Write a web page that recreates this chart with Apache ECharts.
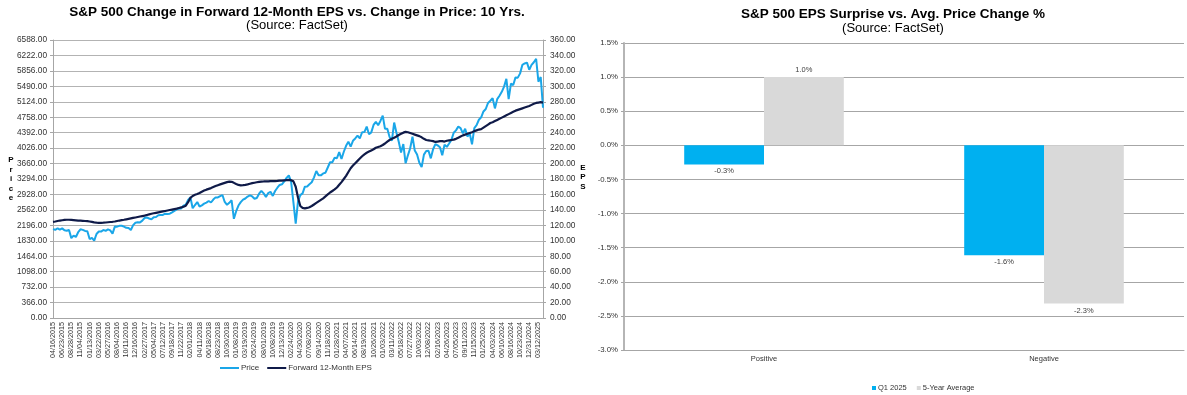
<!DOCTYPE html>
<html><head><meta charset="utf-8">
<script src="https://cdn.jsdelivr.net/npm/echarts@6/dist/echarts.min.js"></script>
<style>html,body{margin:0;padding:0;background:#fff}#c{width:1187px;height:395px}</style>
</head><body><div id="c"></div>
<script>
// ---- Left chart: tick labels (every 4th sample), price and forward EPS ----
const ticks = ['04/16/2015','06/23/2015','08/28/2015','11/04/2015','01/13/2016','03/22/2016','05/27/2016','08/04/2016','10/11/2016','12/16/2016',
'02/27/2017','05/04/2017','07/12/2017','09/18/2017','11/22/2017','02/01/2018','04/11/2018','06/18/2018','08/23/2018','10/30/2018',
'01/08/2019','03/19/2019','05/24/2019','08/01/2019','10/08/2019','12/13/2019','02/24/2020','04/30/2020','07/08/2020','09/14/2020',
'11/18/2020','01/28/2021','04/07/2021','06/14/2021','08/19/2021','10/26/2021','01/03/2022','03/11/2022','05/18/2022','07/27/2022',
'10/03/2022','12/08/2022','02/16/2023','04/26/2023','07/05/2023','09/11/2023','11/15/2023','01/25/2024','04/03/2024','06/10/2024',
'08/16/2024','10/23/2024','12/31/2024','03/12/2025'];

const price = [
2106,2090,2126,2092, 2124,2077,2068,2086,
1893,1953,1920,2033, 2102,2089,2063,2056,
1870,1900,1835,1990, 2049,2047,2087,2064,
2099,2075,2000,2166, 2164,2184,2186,2165,
2136,2133,2085,2202, 2258,2270,2266,2307,
2369,2381,2359,2338, 2389,2394,2434,2439,
2443,2472,2466,2471, 2503,2537,2575,2591,
2597,2660,2687,2800, 2860,2600,2677,2747,
2642,2670,2711,2735, 2773,2737,2806,2858,
2856,2888,2914,2750, 2682,2730,2790,2350,
2530,2665,2745,2804, 2832,2879,2908,2880,
2826,2843,2945,3014, 2953,2870,2960,2992,
2893,3010,3087,3153, 3169,3235,3321,3380,
3226,2741,2237,2762, 2912,2954,3112,3117,
3169,3216,3333,3484, 3383,3380,3427,3443,
3567,3691,3690,3801, 3787,3932,3768,3940,
4080,4180,4063,4200, 4255,4320,4258,4402,
4406,4535,4354,4399, 4575,4649,4567,4669,
4797,4483,4484,4288, 4204,4632,4392,4175,
3924,4121,3667,3855, 4024,4297,3967,3873,
3678,3577,3872,3959, 3963,3783,3999,4119,
4090,4048,3855,4109, 4056,4136,4221,4389,
4446,4536,4499,4376, 4487,4300,4373,4117,
4502,4569,4698,4757, 4894,4953,5096,5149,
5211,4967,5187,5268, 5360,5483,5667,5186,
5554,5520,5702,5696, 5797,6001,6032,6051,
5882,5997,6061,6144,
5599,5712,4982];

const eps = [
124.5,125.0,125.6,126.2, 126.6,127.0,127.2,127.2,
127.0,126.8,126.5,126.2, 126.0,125.8,125.6,125.4,
125.0,124.4,123.8,123.4, 123.2,123.2,123.4,123.7,
124.0,124.3,124.6,125.0, 125.6,126.2,126.7,127.2,
127.8,128.4,129.0,129.6, 130.2,130.8,131.4,132.0,
132.6,133.4,134.2,135.0, 135.6,136.2,136.8,137.4,
138.0,138.6,139.2,139.8, 140.4,141.0,141.6,142.4,
143.2,144.2,145.5,150.0, 155.5,158.0,159.5,160.5,
161.8,163.5,165.0,166.2, 167.2,168.2,169.5,170.8,
172.0,173.0,174.0,175.0, 176.0,176.5,176.3,175.0,
173.5,172.3,171.8,172.0, 172.4,173.0,173.8,174.6,
175.2,175.8,176.3,176.7, 176.8,177.0,177.0,177.2,
177.2,177.3,177.5,177.8, 178.0,178.3,178.6,178.8,
178.5,177.0,170.0,156.0, 145.0,142.5,142.0,142.5,
143.5,145.0,147.0,149.0, 151.0,153.0,155.0,157.5,
160.0,162.5,164.5,166.5, 169.0,172.5,176.0,180.0,
184.0,189.0,194.0,197.5, 200.5,203.5,206.5,209.5,
212.0,214.0,215.5,217.0, 218.5,220.5,221.5,222.5,
224.0,226.0,228.5,230.5, 232.0,233.5,235.0,237.0,
238.5,240.0,241.0,240.5, 239.5,238.5,237.5,236.5,
235.5,234.0,232.0,230.5, 230.0,229.5,229.0,228.0,
228.5,229.0,229.0,228.5, 229.5,230.0,230.5,231.0,
232.0,233.5,235.0,236.5, 237.5,238.5,239.5,240.5,
242.0,243.0,244.0,244.5, 246.5,248.5,250.5,252.5,
253.5,255.0,256.5,258.0, 259.5,261.0,262.5,264.0,
265.5,267.0,268.5,269.5, 270.5,271.5,272.5,273.5,
274.5,276.0,277.5,278.5,
279.0,279.5,279.0];

// ---- Right chart ----
const barCategories = ['Positive','Negative'];
const q1_2025 = [-0.28, -1.61];
const fiveYearAvg = [1.0, -2.32];

const FONT = '"Liberation Sans", Arial, sans-serif';
const AX = '#333333';
const chart = echarts.init(document.getElementById('c'), null, {renderer:'canvas'});

const barLabel = {show:true, fontSize:7.5, color:'#404040', distance:3, fontFamily:FONT,
  formatter: p => p.value.toFixed(1) + '%'};
const signed = arr => arr.map(v => ({value:v, label:{position: v < 0 ? 'bottom' : 'top'}}));

const option = {
  animation:false,
  backgroundColor:'#fff',
  textStyle:{fontFamily:FONT},
  graphic:[
    {type:'text', x:297, y:12.5, style:{text:'S&P 500 Change in Forward 12-Month EPS vs. Change in Price: 10 Yrs.', fill:'#000', font:'bold 13.5px "Liberation Sans", Arial', align:'center', verticalAlign:'middle'}},
    {type:'text', x:297, y:25, style:{text:'(Source: FactSet)', fill:'#000', font:'13px "Liberation Sans", Arial', align:'center', verticalAlign:'middle'}},
    {type:'text', x:893, y:14, style:{text:'S&P 500 EPS Surprise vs. Avg. Price Change %', fill:'#000', font:'bold 13.5px "Liberation Sans", Arial', align:'center', verticalAlign:'middle'}},
    {type:'text', x:893, y:28, style:{text:'(Source: FactSet)', fill:'#000', font:'13px "Liberation Sans", Arial', align:'center', verticalAlign:'middle'}},
    {type:'text', x:11, y:179, style:{text:'P\nr\ni\nc\ne', fill:'#000', font:'bold 8px "Liberation Sans", Arial', lineHeight:9.6, align:'center', verticalAlign:'middle'}},
    {type:'text', x:583, y:177, style:{text:'E\nP\nS', fill:'#000', font:'bold 8px "Liberation Sans", Arial', lineHeight:9.6, align:'center', verticalAlign:'middle'}}
  ],
  legend:[
    {data:['Price','Forward 12-Month EPS'], left:220, top:364, icon:'rect', itemWidth:19, itemHeight:2, itemGap:8, padding:0,
     textStyle:{fontSize:8, color:AX, fontFamily:FONT, padding:[0,0,0,-3]}},
    {data:['Q1 2025','5-Year Average'], left:872, top:384, icon:'rect', itemWidth:4, itemHeight:4, itemGap:10, padding:0,
     textStyle:{fontSize:7.5, color:AX, fontFamily:FONT, padding:[0,0,0,-3]}}
  ],
  grid:[
    {left:53, top:40, width:490, height:278},
    {left:624, top:43, width:560, height:307}
  ],
  xAxis:[
    {gridIndex:0, type:'value', min:0, max:214, interval:4,
     axisLine:{show:true, lineStyle:{color:'#A6A6A6', width:1}}, axisTick:{show:false}, splitLine:{show:false},
     axisLabel:{rotate:90, fontSize:7.2, color:AX, margin:4, fontFamily:FONT,
       formatter: v => (v % 4 === 0 && ticks[v/4]) ? ticks[v/4] : ''}},
    {gridIndex:1, type:'category', data:barCategories,
     axisLine:{show:true, onZero:false, lineStyle:{color:'#A6A6A6', width:1}}, axisTick:{show:false},
     axisLabel:{fontSize:7.5, color:AX, margin:5, fontFamily:FONT}}
  ],
  yAxis:[
    {gridIndex:0, type:'value', min:0, max:6588, interval:366,
     axisLine:{show:true, lineStyle:{color:'#A6A6A6'}}, axisTick:{show:true, length:3, lineStyle:{color:'#A6A6A6'}},
     splitLine:{show:true, lineStyle:{color:'#B3B3B3', width:1}},
     axisLabel:{fontSize:8.3, color:AX, margin:6, fontFamily:FONT, formatter: v => v.toFixed(2)}},
    {gridIndex:0, type:'value', position:'right', min:0, max:360, interval:20,
     axisLine:{show:true, lineStyle:{color:'#A6A6A6'}}, axisTick:{show:true, length:3, lineStyle:{color:'#A6A6A6'}},
     splitLine:{show:false},
     axisLabel:{fontSize:8.3, color:AX, margin:7, fontFamily:FONT, formatter: v => v.toFixed(2)}},
    {gridIndex:1, type:'value', min:-3, max:1.5, interval:0.5,
     axisLine:{show:true, lineStyle:{color:'#B5B5B5', width:2}}, axisTick:{show:true, length:3, lineStyle:{color:'#A6A6A6'}},
     splitLine:{show:true, lineStyle:{color:'#A6A6A6', width:1}},
     axisLabel:{fontSize:7.8, color:AX, margin:6, fontFamily:FONT, formatter: v => v.toFixed(1) + '%'}}
  ],
  series:[
    {name:'Price', type:'line', xAxisIndex:0, yAxisIndex:0, showSymbol:false, symbol:'none',
     data: price.map((v,i) => [i, v]), lineStyle:{color:'#1AA6E8', width:2}, itemStyle:{color:'#1AA6E8'}, z:2},
    {name:'Forward 12-Month EPS', type:'line', xAxisIndex:0, yAxisIndex:1, showSymbol:false, symbol:'none',
     data: eps.map((v,i) => [i, v]), lineStyle:{color:'#0F1A48', width:2.2}, itemStyle:{color:'#0F1A48'}, z:3},
    {name:'Q1 2025', type:'bar', xAxisIndex:1, yAxisIndex:2, data: signed(q1_2025),
     itemStyle:{color:'#00B0F0'}, barGap:'0%', barCategoryGap:'43%', label:barLabel},
    {name:'5-Year Average', type:'bar', xAxisIndex:1, yAxisIndex:2, data: signed(fiveYearAvg),
     itemStyle:{color:'#D9D9D9'}, barGap:'0%', barCategoryGap:'43%', label:barLabel}
  ]
};
chart.setOption(option);
</script>
</body></html>
